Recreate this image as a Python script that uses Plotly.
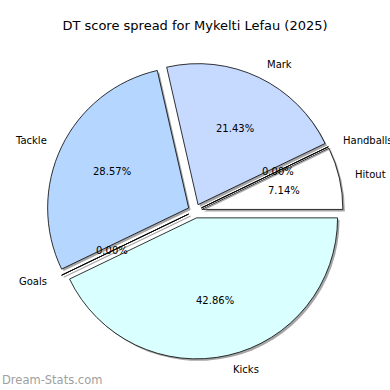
import math
import plotly.graph_objects as go

title = "DT score spread for Mykelti Lefau (2025)"
labels = ["Hitout", "Handballs", "Mark", "Tackle", "Goals", "Kicks"]
values = [1, 0, 3, 4, 0, 6]
colors = ["#ffffff", "#e0e0ff", "#c6d9ff", "#b5d6ff", "#d0f0ff", "#d9ffff"]
explode = 0.05

W = H = 390
cx, cy = 195, 211      # pie centre in pixels (from top-left)
R = 141                # pie radius in pixels
shadow_dx, shadow_dy = 2, 2

total = sum(values)

def dom(cxp, cyp):
    half = R * (1 + explode)
    return dict(x=[(cxp - half) / W, (cxp + half) / W],
                y=[1 - (cyp + half) / H, 1 - (cyp - half) / H])

pull = [explode] * len(values)
# plotly counterclockwise pies end the first slice at `rotation`; shift so the first slice starts at 3 o'clock
rot = 90 - 360 * values[0] / total
common = dict(values=values, labels=labels, sort=False, direction="counterclockwise",
              rotation=rot, pull=pull, textinfo="none", hoverinfo="skip", showlegend=False)

fig = go.Figure()
fig.add_trace(go.Pie(**common, domain=dom(cx + shadow_dx, cy + shadow_dy),
                     marker=dict(colors=["rgba(77,77,77,0.5)"] * len(values), line=dict(width=0))))
fig.add_trace(go.Pie(**common, domain=dom(cx, cy),
                     marker=dict(colors=colors, line=dict(color="black", width=0.8))))

ann = []
shapes = []
start = 0.0
font = dict(family="DejaVu Sans", size=10, color="black")
for lab, v in zip(labels, values):
    frac = v / total
    mid = (start + frac / 2) * 2 * math.pi
    c, s = math.cos(mid), math.sin(mid)
    sx, sy = cx + explode * R * c, cy - explode * R * s
    lx, ly = sx + 1.1 * R * c, sy - 1.1 * R * s
    ann.append(dict(x=lx / W, y=1 - ly / H, xref="paper", yref="paper", text=lab,
                    showarrow=False, xanchor="left" if c > 0 else "right", yanchor="middle", font=font))
    px, py = sx + 0.6 * R * c, sy - 0.6 * R * s
    ann.append(dict(x=px / W, y=1 - py / H, xref="paper", yref="paper", text=f"{frac*100:.2f}%",
                    showarrow=False, xanchor="center", yanchor="middle", font=font))
    if v == 0:
        ex, ey = sx + R * c, sy - R * s
        shapes.append(dict(type="line", xref="paper", yref="paper",
                           x0=(sx + shadow_dx) / W, y0=1 - (sy + shadow_dy) / H,
                           x1=(ex + shadow_dx) / W, y1=1 - (ey + shadow_dy) / H,
                           line=dict(color="rgba(77,77,77,0.5)", width=1.2)))
        shapes.append(dict(type="line", xref="paper", yref="paper",
                           x0=sx / W, y0=1 - sy / H, x1=ex / W, y1=1 - ey / H,
                           line=dict(color="black", width=0.8)))
    start += frac

ann.append(dict(x=0, y=1 - 380 / H, xref="paper", yref="paper", text="Dream-Stats.com",
                showarrow=False, xanchor="left", yanchor="middle",
                font=dict(family="DejaVu Sans", size=11.5, color="#a0a0a0")))

fig.update_layout(
    width=W, height=H, margin=dict(l=0, r=0, t=0, b=0),
    paper_bgcolor="white", plot_bgcolor="white",
    title=dict(text=title, x=0.5, xanchor="center", y=1 - 25 / H, yanchor="middle",
               font=dict(family="DejaVu Sans", size=13, color="black")),
    annotations=ann, shapes=shapes,
)
fig.write_html("out.html", config={"displayModeBar": False},
               post_script="document.body.style.margin='0';")
